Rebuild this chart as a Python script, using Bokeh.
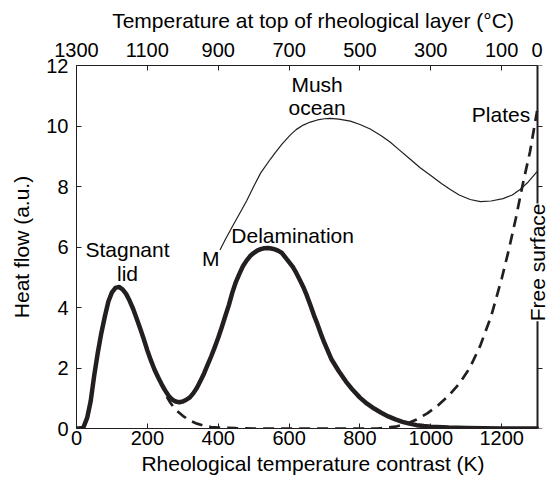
from bokeh.plotting import figure
from bokeh.models import LinearAxis, FixedTicker, Range1d, Label
from bokeh.embed import file_html
from bokeh.resources import INLINE

# ---- data ----
# Thick solid curve: stagnant lid + delamination regimes
contrast_thick = [0, 10, 20, 30, 40, 50, 60, 70, 80, 90, 100, 110, 120, 130, 140, 150,
                  160, 170, 180, 190, 200, 210, 220, 230, 240, 250, 260, 270, 280, 290,
                  300, 310, 320, 330, 340, 350, 360, 370, 380, 390, 400, 410, 420, 430,
                  440, 450, 460, 470, 480, 490, 500, 510, 520, 530, 540, 550, 560, 570,
                  580, 590, 600, 610, 620, 630, 640, 650, 660, 670, 680, 690, 700, 720,
                  740, 760, 780, 800, 820, 840, 860, 880, 900, 920, 940, 960, 980, 1000,
                  1050, 1100, 1200, 1300]
heat_thick = [0.0, 0.01, 0.05, 0.35, 0.9, 1.75, 2.5, 3.15, 3.7, 4.2, 4.5, 4.65, 4.68, 4.6,
              4.45, 4.22, 3.95, 3.63, 3.3, 2.95, 2.58, 2.25, 1.95, 1.7, 1.47, 1.26, 1.08,
              0.96, 0.89, 0.87, 0.89, 0.95, 1.03, 1.17, 1.35, 1.58, 1.82, 2.1, 2.38, 2.68,
              3.0, 3.35, 3.72, 4.08, 4.5, 4.85, 5.12, 5.37, 5.55, 5.7, 5.8, 5.88, 5.93,
              5.96, 5.97, 5.95, 5.92, 5.87, 5.8, 5.65, 5.5, 5.35, 5.15, 4.92, 4.68, 4.4,
              4.08, 3.75, 3.45, 3.12, 2.82, 2.28, 1.9, 1.56, 1.27, 1.02, 0.82, 0.66, 0.52,
              0.4, 0.3, 0.22, 0.16, 0.11, 0.08, 0.06, 0.03, 0.015, 0.0, 0.0]

# Dashed curve: free surface / plates
contrast_dashed = [255, 265, 280, 300, 320, 340, 360, 380, 400, 450, 500, 600, 700, 800,
                   850, 870, 900, 930, 960, 990, 1020, 1050, 1080, 1110, 1140, 1170, 1200,
                   1220, 1240, 1260, 1280, 1300]
heat_dashed = [1.05, 0.85, 0.62, 0.42, 0.26, 0.16, 0.09, 0.05, 0.03, 0.01, 0.0, 0.0, 0.0,
               0.0, 0.0, 0.02, 0.06, 0.15, 0.3, 0.5, 0.76, 1.08, 1.48, 2.0, 2.75, 3.7,
               4.95, 5.9, 6.95, 8.1, 9.15, 10.5]

# Thin curve: mush ocean
contrast_thin = [405, 420, 440, 460, 480, 500, 520, 547, 560, 580, 603, 620, 640, 660, 680,
                 700, 716, 740, 773, 800, 829, 860, 885, 910, 942, 970, 998, 1030, 1055,
                 1080, 1111, 1140, 1170, 1204, 1230, 1252, 1275, 1300]
heat_thin = [5.9, 6.25, 6.68, 7.1, 7.52, 8.0, 8.45, 8.9, 9.1, 9.4, 9.7, 9.88, 10.03, 10.13,
             10.2, 10.24, 10.25, 10.23, 10.16, 10.05, 9.9, 9.68, 9.47, 9.22, 8.9, 8.62,
             8.38, 8.1, 7.9, 7.72, 7.57, 7.5, 7.52, 7.6, 7.72, 7.9, 8.15, 8.49]

bottom_ticks = [0, 200, 400, 600, 800, 1000, 1200]
top_tick_positions = [0, 200, 400, 600, 800, 1000, 1200, 1300]
top_tick_labels = ["1300", "1100", "900", "700", "500", "300", "100", "0"]
y_ticks = [0, 2, 4, 6, 8, 10, 12]

X_MAX = 1300          # end of the data axis (right frame edge)

FONT = "Liberation Sans"
INK = "#231f20"
TICK_FS = "20px"
FS = "21px"

# x range runs slightly past 1300 so the rotated label on the right edge is not clipped;
# the drawn frame edges stop at 1300.
p = figure(width=552, height=488, x_range=Range1d(0, 1335), y_range=Range1d(0, 12),
           output_backend="svg", toolbar_location=None,
           min_border_left=76, min_border_right=3, min_border_top=65, min_border_bottom=60,
           background_fill_color="white", border_fill_color="white")
p.outline_line_color = None
p.xgrid.visible = False
p.ygrid.visible = False


def style_axis(ax):
    ax.axis_line_color = INK
    ax.axis_line_width = 1
    ax.major_tick_line_color = INK
    ax.major_tick_in = 5
    ax.major_tick_out = 0
    ax.minor_tick_in = 0
    ax.minor_tick_out = 0
    ax.minor_tick_line_color = None
    ax.major_label_text_font = FONT
    ax.major_label_text_font_size = TICK_FS
    ax.major_label_text_color = "black"
    ax.axis_label_text_font = FONT
    ax.axis_label_text_font_size = FS
    ax.axis_label_text_font_style = "normal"
    ax.axis_label_text_color = "black"


# bottom axis
xb = p.xaxis[0]
xb.ticker = FixedTicker(ticks=bottom_ticks, minor_ticks=[])
xb.axis_label = "Rheological temperature contrast (K)"
xb.bounds = (0, X_MAX)
style_axis(xb)
xb.major_label_standoff = 2
xb.axis_label_standoff = 4

# left axis
yl = p.yaxis[0]
yl.ticker = FixedTicker(ticks=y_ticks, minor_ticks=[])
yl.axis_label = "Heat flow (a.u.)"
style_axis(yl)
yl.major_label_standoff = 8
yl.axis_label_standoff = 10

# top axis
xt = LinearAxis(ticker=FixedTicker(ticks=top_tick_positions, minor_ticks=[]),
                axis_label="Temperature at top of rheological layer (°C)",
                major_label_overrides={pos: lab for pos, lab in zip(top_tick_positions, top_tick_labels)},
                bounds=(0, X_MAX))
style_axis(xt)
xt.major_label_standoff = 9
xt.axis_label_standoff = 8
p.add_layout(xt, "above")

# right frame edge at x = 1300
edge = LinearAxis(ticker=FixedTicker(ticks=y_ticks, minor_ticks=[]),
                  major_label_overrides={t: "" for t in y_ticks},
                  fixed_location=X_MAX)
style_axis(edge)
edge.axis_line_width = 2
edge.major_label_standoff = 0
p.add_layout(edge, "left")

# curves
p.line(contrast_dashed, heat_dashed, line_width=2.7, color=INK, line_dash="11 7")
p.line(contrast_thick, heat_thick, line_width=4.5, color=INK, line_join="round", line_cap="round")
p.line(contrast_thin, heat_thin, line_width=1.2, color=INK, line_join="round")

# annotations
def add_label(x, y, text, **kw):
    lab = Label(x=x, y=y, text=text, text_font=FONT, text_font_size=FS,
                text_color="black", text_align="center", text_baseline="alphabetic", **kw)
    p.add_layout(lab)

add_label(144, 5.92, "Stagnant")
add_label(144, 5.13, "lid")
add_label(379, 5.62, "M")
add_label(610, 6.39, "Delamination")
add_label(679, 11.38, "Mush")
add_label(679, 10.61, "ocean")
add_label(1198, 10.39, "Plates")
p.add_layout(Label(x=X_MAX, y=5.49, text="Free surface", text_font=FONT,
                   text_font_size=FS, text_color="black", text_align="center",
                   text_baseline="middle", angle=90, angle_units="deg",
                   background_fill_color="white"))

open("out.html", "w").write(file_html(p, INLINE))
